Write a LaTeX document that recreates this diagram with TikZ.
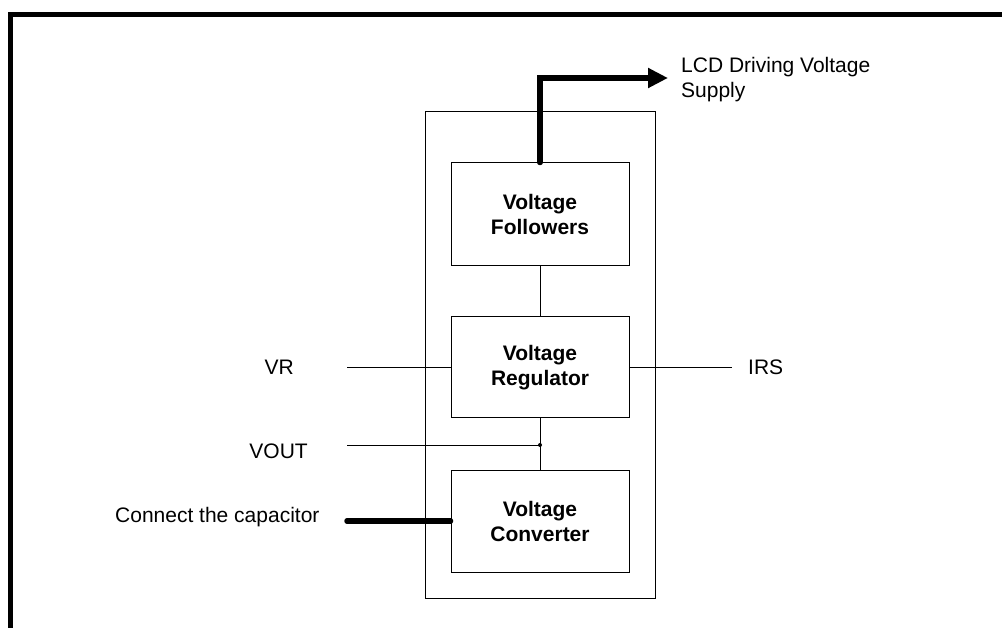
\documentclass[tikz,border=0pt]{standalone}
\usepackage{fontspec}
\setmainfont{Liberation Sans}
\usetikzlibrary{arrows.meta}
\begin{document}
\begin{tikzpicture}[x=1pt,y=-1pt,
  box/.style={draw, line width=1pt, minimum width=178pt, inner sep=0pt, font=\fontsize{21}{25}\selectfont\bfseries, align=center},
  lbl/.style={inner sep=0pt, font=\fontsize{21}{25}\selectfont},
  thinline/.style={line width=1pt},
  thickline/.style={line width=5.5pt, line cap=round, line join=miter}]
\useasboundingbox (0,0) rectangle (1002,628);
\draw[line width=4.7pt, line join=miter] (10.3,628) -- (10.3,14.4) -- (1002,14.4);
\node[draw, line width=1pt, minimum width=230pt, minimum height=486pt] (outer) at (540,355) {};
\node[box, minimum height=103pt] (fol) at (540,214.5) {Voltage\\Followers};
\node[box, minimum height=101pt] (reg) at (540,367.5) {Voltage\\Regulator};
\node[box, minimum height=102pt] (conv) at (540,521) {Voltage\\Converter};
\draw[thinline] (fol.south) -- (reg.north);
\draw[thinline] (reg.south) -- (conv.north);
% VR
\node[lbl, anchor=base east] (vr) at (294,375) {VR};
\coordinate (vrend) at (347,367.5);
\draw[thinline] (vrend) -- (reg.west);
% IRS
\node[lbl, anchor=base west] (irs) at (748,375) {IRS};
\coordinate (irsend) at (732,367.5);
\draw[thinline] (reg.east) -- (irsend);
% VOUT
\node[lbl, anchor=base east] (vout) at (308,458) {VOUT};
\coordinate (voutend) at (347,445);
\coordinate (vj) at (540,445);
\draw[thinline] (voutend) -- (vj);
\fill (vj) circle (2pt);
% capacitor
\node[lbl, anchor=base west] (capl) at (115,522) {Connect the capacitor};
\coordinate (capend) at (347,521);
\draw[thickline] (capend) -- (conv.west);
% LCD
\node[lbl, anchor=north west, align=left] (lcd) at (681,57) {LCD Driving Voltage\\Supply};
\coordinate (lcdtip) at (668,78);
\draw[thickline, -{Triangle[length=20pt,width=19pt]}] (fol.north) |- (lcdtip);
\end{tikzpicture}
\end{document}
